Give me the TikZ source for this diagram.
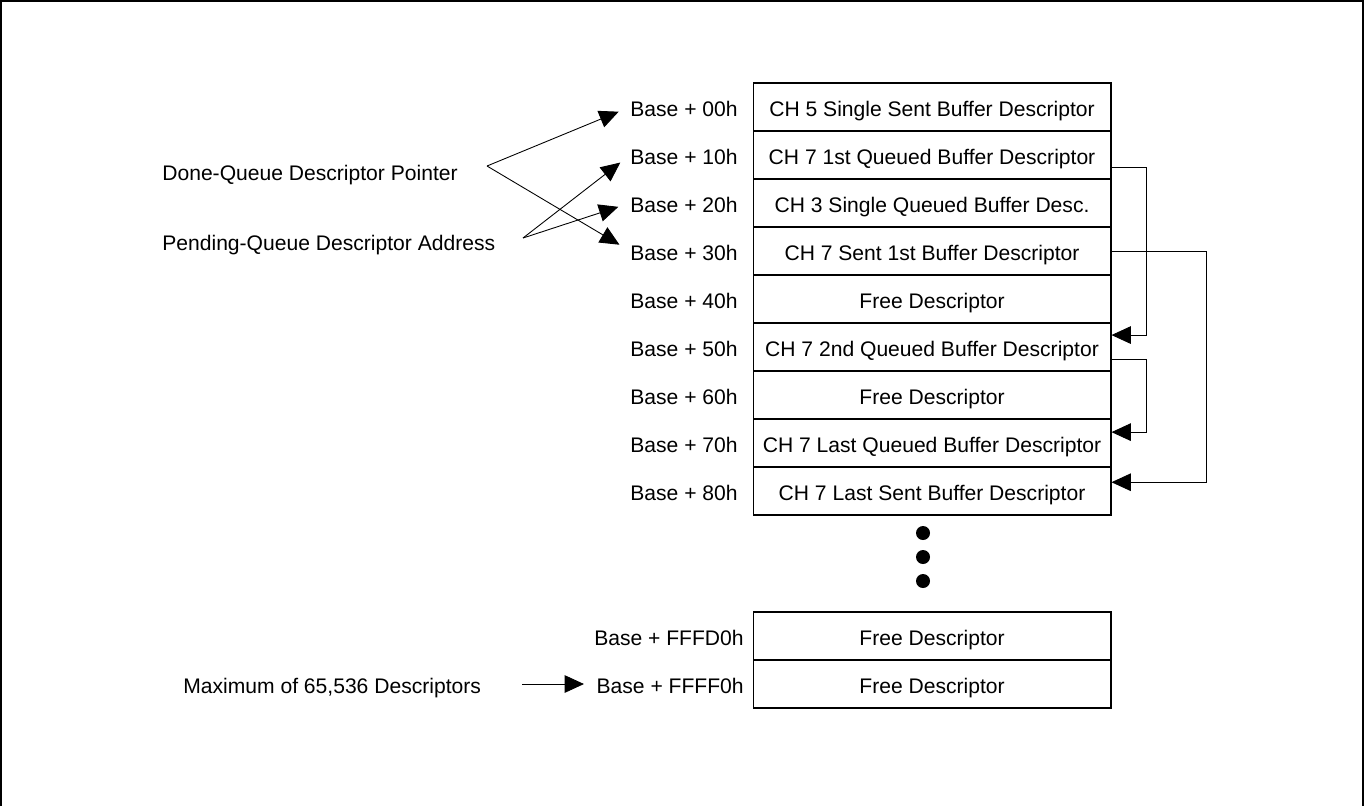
\documentclass[tikz,border=0pt]{standalone}
\usepackage{fontspec}
\setmainfont{Liberation Sans}
\usepackage{tikz}
\usetikzlibrary{arrows.meta, positioning}

\begin{document}
\begin{tikzpicture}[x=0.02cm, y=-0.02cm,
    font=\fontsize{12}{14}\selectfont,
    cell/.style={draw, line width=0.6pt, minimum width=7.16cm, minimum height=0.96cm, inner sep=0pt, text height=1.1em, text depth=0pt},
    addr/.style={anchor=east, inner sep=0pt, text height=1.1em, text depth=0pt},
    lbl/.style={anchor=west, inner sep=0pt, text height=1.1em, text depth=0pt},
    ptr/.style={line width=0.5pt, -{Triangle[length=11pt, width=10pt]}, shorten >=7pt},
    link/.style={line width=0.5pt, -{Triangle[length=11pt, width=10pt]}}]
    \useasboundingbox (0,0) rectangle (1364,806);

    % frame: top, left and right sides only
    \draw[line width=1.1pt] (1,806) -- (1,1) -- (1363,1) -- (1363,806);

    % descriptor table
    \node[cell] (c00) at (932,107) {CH 5 Single Sent Buffer Descriptor};
    \node[addr] (a00) at (738,107) {Base + 00h};
    \node[cell] (c10) at (932,155) {CH 7 1st Queued Buffer Descriptor};
    \node[addr] (a10) at (738,155) {Base + 10h};
    \node[cell] (c20) at (932,203) {CH 3 Single Queued Buffer Desc.};
    \node[addr] (a20) at (738,203) {Base + 20h};
    \node[cell] (c30) at (932,251) {CH 7 Sent 1st Buffer Descriptor};
    \node[addr] (a30) at (738,251) {Base + 30h};
    \node[cell] (c40) at (932,299) {Free Descriptor};
    \node[addr] (a40) at (738,299) {Base + 40h};
    \node[cell] (c50) at (932,347) {CH 7 2nd Queued Buffer Descriptor};
    \node[addr] (a50) at (738,347) {Base + 50h};
    \node[cell] (c60) at (932,395) {Free Descriptor};
    \node[addr] (a60) at (738,395) {Base + 60h};
    \node[cell] (c70) at (932,443) {CH 7 Last Queued Buffer Descriptor};
    \node[addr] (a70) at (738,443) {Base + 70h};
    \node[cell] (c80) at (932,491) {CH 7 Last Sent Buffer Descriptor};
    \node[addr] (a80) at (738,491) {Base + 80h};

    % dots
    \fill (923,533) circle (0.14cm);
    \fill (923,557) circle (0.14cm);
    \fill (923,581) circle (0.14cm);

    % last two descriptors
    \node[cell] (cfd) at (932,636) {Free Descriptor};
    \node[addr] (afd) at (744,636) {Base + FFFD0h};
    \node[cell] (cff) at (932,684) {Free Descriptor};
    \node[addr] (aff) at (744,684) {Base + FFFF0h};

    % left labels
    \node[lbl] (done) at (162,171) {Done-Queue Descriptor Pointer};
    \node[lbl] (pend) at (162,241) {Pending-Queue Descriptor Address};
    \node[lbl] (maxd) at (183,684) {Maximum of 65,536 Descriptors};
    \coordinate (donept) at (487,166);
    \coordinate (pendpt) at (523,238);
    \coordinate (maxpt) at (522,684);

    % pointers into the table
    \draw[ptr] (donept) -- (a00.west);
    \draw[ptr] (donept) -- (a30.west);
    \draw[ptr] (pendpt) -- (a10.west);
    \draw[ptr] (pendpt) -- (a20.west);
    \draw[ptr] (maxpt) -- (aff.west);

    % queue links on the right
    \draw[link] ([yshift=-6.8pt]c10.east) -- ++(35,0) |- ([yshift=6.8pt]c50.east);
    \draw[link] ([yshift=-6.8pt]c50.east) -- ++(35,0) |- ([yshift=6.2pt]c70.east);
    \draw[link] (c30.east) -- ++(95,0) |- ([yshift=5pt]c80.east);
\end{tikzpicture}
\end{document}
